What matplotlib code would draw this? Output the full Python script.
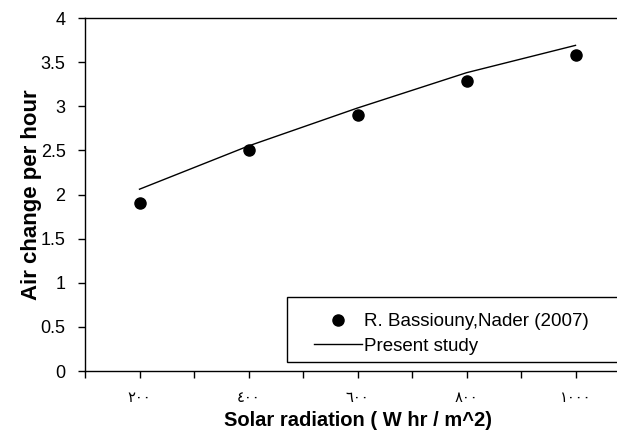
import numpy as np
import matplotlib
matplotlib.use('Agg')
import matplotlib.pyplot as plt
from matplotlib.patches import Rectangle

plt.rcParams['font.family'] = ['Liberation Sans', 'DejaVu Sans']

# data
radiation = [200, 400, 600, 800, 1000]
tick_labels = ['\u0662\u0660\u0660', '\u0664\u0660\u0660', '\u0666\u0660\u0660',
               '\u0668\u0660\u0660', '\u0661\u0660\u0660\u0660']
measured = [1.9, 2.5, 2.9, 3.29, 3.58]     # R. Bassiouny, Nader (2007)
present = [2.06, 2.55, 2.98, 3.38, 3.69]   # present study

fig = plt.figure(figsize=(6.17, 4.37), dpi=100)
ax = fig.add_axes([85 / 617, 66 / 437, 545 / 617, 353 / 437])

ax.plot(radiation, present, color='black', lw=1.0, label='Present study')
ax.plot(radiation, measured, 'o', color='black', ms=8, label='R. Bassiouny,Nader (2007)')

ax.set_xlim(100, 1100)
ax.set_ylim(0, 4)
ax.set_yticks(np.arange(0, 4.01, 0.5))
ax.set_yticklabels(['0', '0.5', '1', '1.5', '2', '2.5', '3', '3.5', '4'], fontsize=13)
ax.set_xticks(radiation)
ax.set_xticklabels(tick_labels, fontsize=10.5, family=['DejaVu Sans'])
ax.set_xticks(np.arange(100, 1101, 100), minor=True)
ax.tick_params(axis='x', which='both', direction='out', length=5, width=1, pad=9)
ax.tick_params(axis='y', direction='out', length=5, width=1, pad=9)

ax.spines['right'].set_visible(False)
for s in ['left', 'bottom', 'top']:
    ax.spines[s].set_linewidth(1.0)

ax.set_xlabel('Solar radiation ( W hr / m^2)', fontsize=14.5, fontweight='bold', labelpad=4)
ax.set_ylabel('Air change per hour', fontsize=16, fontweight='bold', labelpad=-1)

# legend box, runs off the right edge like the original
fig.patches.append(Rectangle((287 / 617, (437 - 362) / 437), 340 / 617, 65 / 437,
                             transform=fig.transFigure, facecolor='white',
                             edgecolor='black', lw=1.0, zorder=5))
h, l = ax.get_legend_handles_labels()
leg = fig.legend(h[::-1], l[::-1], loc='center left',
                 bbox_to_anchor=(305 / 617, (437 - 334) / 437),
                 frameon=False, borderpad=0, fontsize=13.5,
                 handlelength=2.55, handletextpad=0.1, labelspacing=0.4)
leg.set_zorder(6)

fig.savefig('out.png', dpi=100)
